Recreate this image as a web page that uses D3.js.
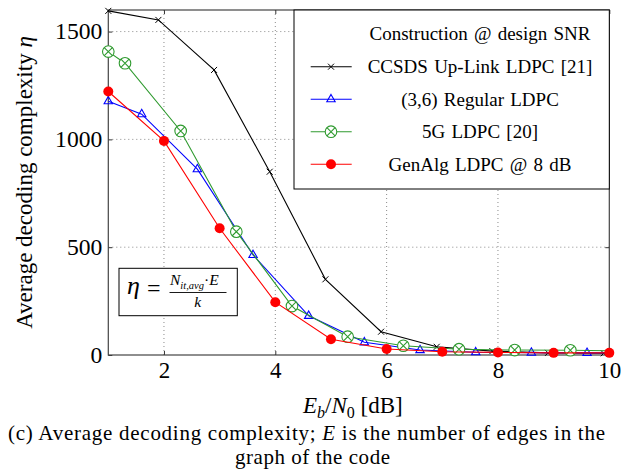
<!DOCTYPE html>
<html>
<head>
<meta charset="utf-8">
<script src="https://cdn.jsdelivr.net/npm/d3@7"></script>
<style>
  html, body { margin: 0; padding: 0; background: #fff; }
  svg { display: block; }
  svg text { font-family: "Liberation Serif", "Tinos", "DejaVu Serif", serif; fill: #000; }
</style>
</head>
<body>
<svg id="chart" width="622" height="470"></svg>
<script>
// Average decoding complexity vs. Eb/N0 for four LDPC constructions
const xTicks = [2, 4, 6, 8, 10];
const yTicks = [0, 500, 1000, 1500];

const ccsdsX = [1, 1.9, 2.9, 3.9, 4.9, 5.9, 6.9, 7.9, 8.9, 9.9, 10];
const ccsdsY = [1596, 1554, 1322, 850, 351, 108, 38, 18, 10, 8, 8];

const regularX = [1, 1.6, 2.6, 3.6, 4.6, 5.6, 6.6, 7.6, 8.6, 9.6, 10];
const regularY = [1177, 1117, 862, 464, 182, 59, 23, 13, 11, 10, 10];

const nrX = [1, 1.3, 2.3, 3.3, 4.3, 5.3, 6.3, 7.3, 8.3, 9.3, 10];
const nrY = [1407, 1353, 1039, 572, 227, 85, 43, 27, 23, 22, 20];

const genX = [1, 2, 3, 4, 5, 6, 7, 8, 9, 10];
const genY = [1222, 993, 588, 245, 73, 28, 15, 12, 10, 10];

const legendTitle = "Construction @ design SNR";
const seriesNames = ["CCSDS Up-Link LDPC [21]", "(3,6) Regular LDPC", "5G LDPC [20]", "GenAlg LDPC @ 8 dB"];

const SERIF = '"Liberation Serif", "Tinos", "DejaVu Serif", serif';
const svg = d3.select("#chart");
const L = 108.3, R = 609.3, T = 10, B = 355;
const x = d3.scaleLinear().domain([1, 10]).range([L, R]);
const y = d3.scaleLinear().domain([0, 1600]).range([B, T]);

// dotted grid
const grid = svg.append("g").attr("stroke", "#8a8a8a").attr("stroke-width", 1).attr("stroke-dasharray", "1,3");
grid.selectAll("line.v").data(xTicks.filter(d => d < 10)).join("line")
  .attr("x1", d => x(d)).attr("x2", d => x(d)).attr("y1", T).attr("y2", B);
grid.selectAll("line.h").data(yTicks.filter(d => d > 0)).join("line")
  .attr("x1", L).attr("x2", R).attr("y1", d => y(d)).attr("y2", d => y(d));

// axes with inward ticks (mirrored on the opposite sides)
const gx = svg.append("g").attr("transform", `translate(0,${B})`)
  .call(d3.axisBottom(x).tickValues(xTicks).tickSize(-4).tickPadding(7).tickFormat(d3.format("d")));
const gy = svg.append("g").attr("transform", `translate(${L},0)`)
  .call(d3.axisLeft(y).tickValues(yTicks).tickSize(-4).tickPadding(6).tickFormat(d3.format("d")));
svg.append("g").attr("transform", `translate(0,${T})`)
  .call(d3.axisTop(x).tickValues(xTicks).tickSize(-4).tickFormat(""));
svg.append("g").attr("transform", `translate(${R},0)`)
  .call(d3.axisRight(y).tickValues(yTicks).tickSize(-4).tickFormat(""));
svg.selectAll(".domain").remove();
svg.selectAll(".tick line").attr("stroke", "#333");
[gx, gy].forEach(g => {
  g.attr("font-family", null).attr("font-size", null);
  g.selectAll("text").style("font-family", SERIF).style("font-size", "23px").attr("fill", "#000");
});
// the value labels on the left run a little wide
gy.selectAll("text")
  .attr("textLength", d => String(d).length * 11.8)
  .attr("lengthAdjust", "spacingAndGlyphs");

// frame
svg.append("rect").attr("x", L).attr("y", T).attr("width", R - L).attr("height", B - T)
  .attr("fill", "none").attr("stroke", "#444").attr("stroke-width", 1.2);

// marker painters
function drawCross(g, cx, cy) {
  const s = 3;
  g.append("path").attr("d", `M${cx - s},${cy - s}L${cx + s},${cy + s}M${cx - s},${cy + s}L${cx + s},${cy - s}`)
    .attr("stroke", "#000").attr("stroke-width", 1).attr("fill", "none");
}
function drawTriangle(g, cx, cy) {
  g.append("path").attr("d", `M${cx},${cy - 4.8}L${cx + 4.2},${cy + 2.6}L${cx - 4.2},${cy + 2.6}Z`)
    .attr("stroke", "#0000ff").attr("stroke-width", 1.1).attr("fill", "none");
}
function drawOtimes(g, cx, cy) {
  const r = 5.8, k = r * Math.SQRT1_2;
  g.append("circle").attr("cx", cx).attr("cy", cy).attr("r", r)
    .attr("stroke", "#2f9a2f").attr("stroke-width", 1.1).attr("fill", "#fff");
  g.append("path").attr("d", `M${cx - k},${cy - k}L${cx + k},${cy + k}M${cx - k},${cy + k}L${cx + k},${cy - k}`)
    .attr("stroke", "#2f9a2f").attr("stroke-width", 1.1);
}
function drawDot(g, cx, cy) {
  g.append("circle").attr("cx", cx).attr("cy", cy).attr("r", 5).attr("fill", "#ff0000");
}

const series = [
  { xs: ccsdsX, ys: ccsdsY, color: "#000000", mark: drawCross, marked: ccsdsX.length - 1 },
  { xs: regularX, ys: regularY, color: "#0000ff", mark: drawTriangle, marked: regularX.length - 1 },
  { xs: nrX, ys: nrY, color: "#2f9a2f", mark: drawOtimes, marked: nrX.length - 1 },
  { xs: genX, ys: genY, color: "#ff0000", mark: drawDot, marked: genX.length }
];

const line = d3.line().x(d => x(d[0])).y(d => y(d[1]));
const plot = svg.append("g");
series.forEach(s => {
  const pts = s.xs.map((v, i) => [v, s.ys[i]]);
  const g = plot.append("g");
  g.append("path").attr("d", line(pts)).attr("fill", "none")
    .attr("stroke", s.color).attr("stroke-width", 1.1);
  pts.slice(0, s.marked).forEach(p => s.mark(g, x(p[0]), y(p[1])));
});

// legend
const lg = svg.append("g");
lg.append("rect").attr("x", 294).attr("y", T).attr("width", R - 294).attr("height", 179)
  .attr("fill", "#fff").attr("stroke", "#000").attr("stroke-width", 1);
const legendFont = "19px";
lg.append("text").attr("x", 480).attr("y", 39.5).attr("text-anchor", "middle")
  .style("font-size", legendFont).style("word-spacing", "1.5px").text(legendTitle);
seriesNames.forEach((name, i) => {
  const cy = 66.7 + i * 32.5;
  const s = series[i];
  lg.append("line").attr("x1", 310.7).attr("x2", 351.7).attr("y1", cy).attr("y2", cy)
    .attr("stroke", s.color).attr("stroke-width", 1.1);
  s.mark(lg, 331, cy);
  lg.append("text").attr("x", 480).attr("y", cy + 6.3).attr("text-anchor", "middle")
    .style("font-size", legendFont).style("word-spacing", "1.5px").text(name);
});

// formula box
const fb = svg.append("g");
fb.append("rect").attr("x", 119).attr("y", 268.3).attr("width", 118.3).attr("height", 47.4)
  .attr("fill", "#fff").attr("stroke", "#000").attr("stroke-width", 1);
fb.append("text").attr("x", 127).attr("y", 294).style("font-size", "26px").style("font-style", "italic").text("η");
fb.append("text").attr("x", 147).attr("y", 296).style("font-size", "24px").text("=");
fb.append("line").attr("x1", 169.5).attr("x2", 226.5).attr("y1", 292.5).attr("y2", 292.5)
  .attr("stroke", "#000").attr("stroke-width", 0.9);
const num = fb.append("text").attr("x", 170).attr("y", 285).style("font-size", "15.5px");
num.append("tspan").style("font-style", "italic").text("N");
num.append("tspan").attr("dy", 3.5).style("font-size", "10.5px").style("font-style", "italic").text("it,avg");
num.append("tspan").attr("dy", -3.5).text("·");
num.append("tspan").style("font-style", "italic").text("E");
fb.append("text").attr("x", 197.7).attr("y", 306.5).attr("text-anchor", "middle")
  .style("font-size", "15.5px").style("font-style", "italic").text("k");

// axis titles
const yl = svg.append("text").attr("transform", "translate(32,182.5) rotate(-90)")
  .attr("text-anchor", "middle").style("font-size", "23px");
yl.append("tspan").text("Average decoding complexity ");
yl.append("tspan").style("font-style", "italic").text("η");

const xl = svg.append("text").attr("x", 303).attr("y", 412.5).style("font-size", "23px");
xl.append("tspan").style("font-style", "italic").text("E");
xl.append("tspan").attr("dy", 5).style("font-size", "16px").style("font-style", "italic").text("b");
xl.append("tspan").attr("dy", -5).text("/");
xl.append("tspan").style("font-style", "italic").text("N");
xl.append("tspan").attr("dy", 5).style("font-size", "16px").text("0");
xl.append("tspan").attr("dy", -5).text(" [dB]");

// caption
const cap = svg.append("g").style("font-size", "21px");
const cap1 = cap.append("text").attr("x", 8).attr("y", 440)
  .attr("textLength", 597).attr("lengthAdjust", "spacing");
cap1.append("tspan").text("(c) Average decoding complexity; ");
cap1.append("tspan").style("font-style", "italic").text("E");
cap1.append("tspan").text(" is the number of edges in the");
cap.append("text").attr("x", 235).attr("y", 463.5)
  .attr("textLength", 155).attr("lengthAdjust", "spacing").text("graph of the code");
</script>
</body>
</html>
